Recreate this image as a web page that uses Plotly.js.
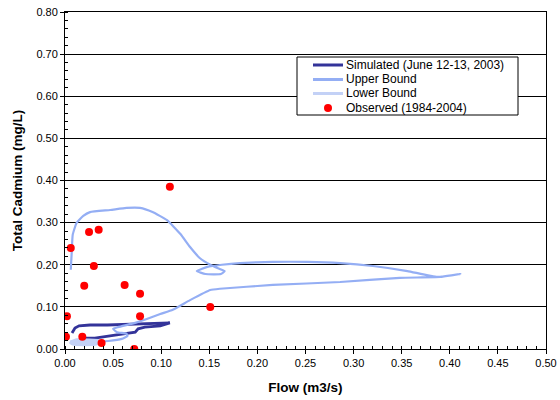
<!DOCTYPE html>
<html>
<head>
<meta charset="utf-8">
<script src="https://cdn.plot.ly/plotly-3.0.1.min.js"></script>
<style>html,body{margin:0;padding:0;background:#fff}#chart{width:560px;height:400px}</style>
</head>
<body>
<div id="chart"></div>
<script>
// Simulated (June 12-13, 2003) hysteresis loop
const simFlow = [0.0073,0.0104,0.0146,0.026,0.044,0.068,0.088,0.109,0.099,0.083,0.076,0.073,0.052,0.031,0.018];
const simCd   = [0.038,0.050,0.055,0.057,0.057,0.059,0.062,0.062,0.055,0.052,0.048,0.040,0.033,0.026,0.026];

// Upper bound loop
const upFlow = [0.006,0.007,0.008,0.012,0.019,0.026,0.047,0.064,0.078,0.091,0.106,0.120,0.130,0.140,0.151,0.161,0.166,0.162,0.146,0.137,0.148,0.163,0.182,0.216,0.252,0.286,0.320,0.356,0.387,0.411,0.390,0.348,0.286,0.216,0.161,0.151,0.130,0.112,0.099,0.085,0.073,0.055,0.050,0.054,0.064,0.065,0.059,0.045,0.031,0.022];
const upCd   = [0.188,0.230,0.271,0.299,0.316,0.325,0.330,0.335,0.335,0.325,0.306,0.273,0.242,0.216,0.200,0.190,0.185,0.178,0.178,0.185,0.195,0.200,0.204,0.207,0.207,0.204,0.197,0.185,0.171,0.178,0.171,0.169,0.159,0.152,0.143,0.140,0.116,0.093,0.083,0.071,0.062,0.052,0.048,0.040,0.036,0.031,0.024,0.019,0.017,0.017];

// Lower bound loop
const lowFlow = [0.005,0.010,0.020,0.030,0.036,0.034,0.025,0.012,0.006,0.008,0.020,0.032];
const lowCd   = [0.018,0.012,0.011,0.012,0.015,0.019,0.020,0.021,0.016,0.013,0.014,0.017];

// Observed (1984-2004)
const obsFlow = [0.109,0.025,0.035,0.006,0.030,0.020,0.062,0.078,0.151,0.002,0.078,0.001,0.018,0.038,0.072];
const obsCd   = [0.385,0.278,0.283,0.240,0.197,0.150,0.152,0.131,0.100,0.078,0.078,0.029,0.029,0.014,0.000];

const seriesNames  = ['Simulated (June 12-13, 2003)', 'Upper Bound', 'Lower Bound', 'Observed (1984-2004)'];
const seriesColors = ['#333399', '#94AEF4', '#C3D1F6', '#FF0000'];

const FONT = "Liberation Sans, Arial, sans-serif";

const traces = [
  {x: simFlow, y: simCd, mode: 'lines', name: seriesNames[0],
   line: {color: seriesColors[0], width: 2.8}},
  {x: upFlow, y: upCd, mode: 'lines', name: seriesNames[1],
   line: {color: seriesColors[1], width: 2.2, shape: 'spline', smoothing: 0.4}},
  {x: lowFlow, y: lowCd, mode: 'lines', name: seriesNames[2],
   line: {color: seriesColors[2], width: 4}},
  {x: obsFlow, y: obsCd, mode: 'markers', name: seriesNames[3],
   marker: {color: seriesColors[3], size: 8}}
];

// Custom legend (Excel-style compact box) in paper coordinates
const W = 481, H = 337;          // plot area size in px
const px = v => v / W, py = v => v / H;
const box = {x0: px(232), x1: px(453), y0: 1 - py(103), y1: 1 - py(45)};
const rowY = [1 - py(53), 1 - py(67.5), 1 - py(81.5), 1 - py(96)];
const shapes = [
  {type: 'rect', xref: 'paper', yref: 'paper', x0: box.x0, x1: box.x1, y0: box.y0, y1: box.y1,
   line: {color: '#000', width: 1}, fillcolor: '#fff', layer: 'above'}
];
const annotations = [];
seriesNames.forEach((nm, i) => {
  if (i < 3) {
    shapes.push({type: 'line', xref: 'paper', yref: 'paper', x0: px(248), x1: px(278), y0: rowY[i], y1: rowY[i],
                 line: {color: seriesColors[i], width: 3}, layer: 'above'});
  } else {
    shapes.push({type: 'circle', xref: 'paper', yref: 'paper', x0: px(259), x1: px(267), y0: rowY[i] - py(4), y1: rowY[i] + py(4),
                 line: {color: seriesColors[i], width: 0}, fillcolor: seriesColors[i], layer: 'above'});
  }
  annotations.push({xref: 'paper', yref: 'paper', x: px(279), y: rowY[i], xanchor: 'left', yanchor: 'middle',
                    text: nm, showarrow: false, font: {family: FONT, size: 12, color: '#000'}});
});

const layout = {
  width: 560, height: 400,
  margin: {l: 65, r: 14, t: 12, b: 51},
  paper_bgcolor: '#fff', plot_bgcolor: '#fff',
  font: {family: FONT, size: 11, color: '#000'},
  showlegend: false,
  shapes: shapes,
  annotations: annotations,
  xaxis: {range: [0, 0.5], dtick: 0.05, tick0: 0, tickformat: '.2f',
          showgrid: false, zeroline: false, showline: true, linecolor: '#000', linewidth: 1,
          mirror: true, ticks: 'outside', ticklen: 4, tickcolor: '#000',
          minor: {dtick: 0.01, ticks: 'inside', ticklen: 3, tickcolor: '#000', showgrid: false},
          title: {text: 'Flow (m3/s)', font: {family: FONT, size: 13.5, color: '#000', weight: 'bold'}, standoff: 14},
          automargin: false, fixedrange: true},
  yaxis: {range: [0, 0.8], dtick: 0.1, tick0: 0, tickformat: '.2f',
          showgrid: true, gridcolor: '#000', gridwidth: 1,
          zeroline: false, showline: true, linecolor: '#000', linewidth: 1,
          mirror: true, ticks: 'outside', ticklen: 4, tickcolor: '#000',
          minor: {dtick: 0.02, ticks: 'inside', ticklen: 3, tickcolor: '#000', showgrid: false},
          title: {text: 'Total Cadmium (mg/L)', font: {family: FONT, size: 13.5, color: '#000', weight: 'bold'}, standoff: 10},
          automargin: false, fixedrange: true}
};

Plotly.newPlot('chart', traces, layout, {displayModeBar: false, staticPlot: true});
</script>
</body>
</html>
